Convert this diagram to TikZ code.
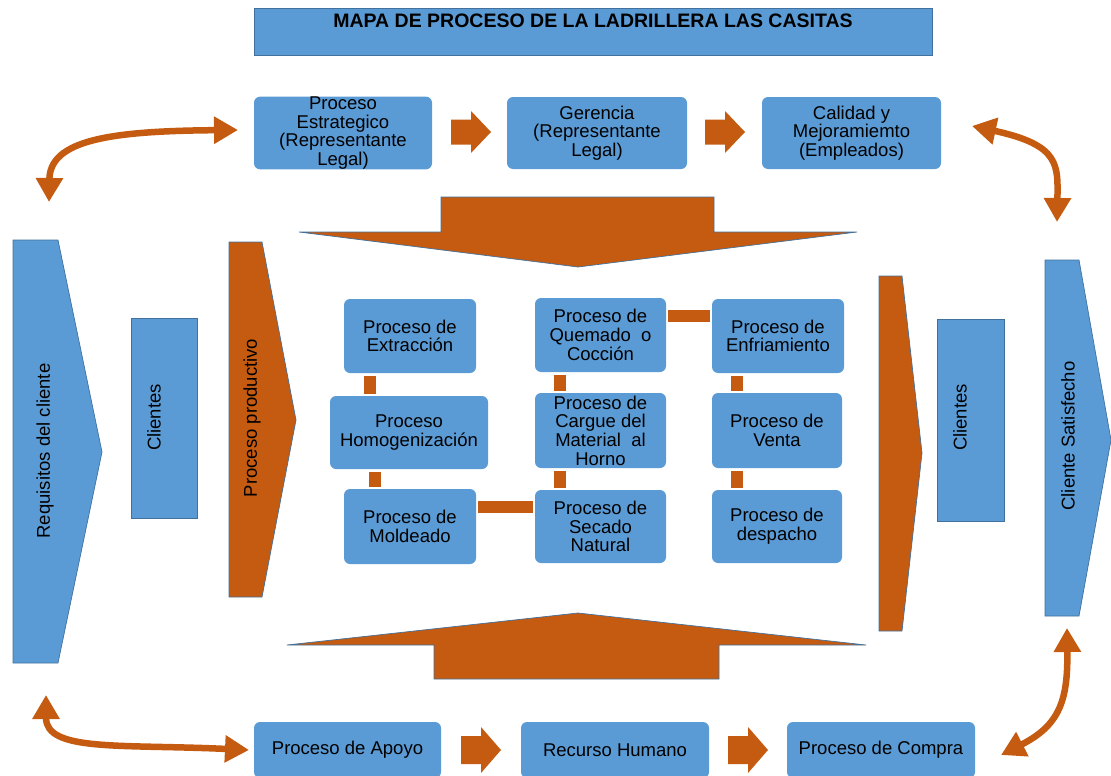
\documentclass[tikz,border=0pt]{standalone}
\usepackage{fontspec}
\setmainfont{Liberation Sans}
\usetikzlibrary{arrows.meta,calc}
\definecolor{pblue}{RGB}{91,155,213}
\definecolor{pedge}{RGB}{65,113,156}
\definecolor{porange}{RGB}{197,90,17}
\newcommand\pbox[6]{\node[rbox, minimum width={#4-#2}, minimum height={#5-#3}] (#1) at ({(#2+#4)/2},{(#3+#5)/2}) {#6};}
\newcommand\blockarr[4]{% x0, cy, shaft half, head half
  \fill[porange] (#1,#2-#3) -- (#1+20,#2-#3) -- (#1+20,#2-#4) -- (#1+40,#2) -- (#1+20,#2+#4) -- (#1+20,#2+#3) -- (#1,#2+#3) -- cycle;}
\begin{document}
\begin{tikzpicture}[x=1pt,y=-1pt,
  txt/.style={font=\fontsize{18.5}{18.7}\selectfont, align=center, inner sep=0pt},
  rbox/.style={txt, fill=pblue, rounded corners=6pt},
  plainbox/.style={fill=pblue, draw=pedge, line width=0.8pt},
  bigshape/.style={draw=pedge, line width=0.7pt},
  vbar/.style={draw=porange, line width=12pt, shorten <=3pt, shorten >=2pt},
  hbar/.style={draw=porange, line width=12pt, shorten <=2pt, shorten >=2pt},
  dbl/.style={draw=porange, line width=6.5pt,
    {Triangle[width=26pt,length=24pt]}-{Triangle[width=26pt,length=24pt]}},
]
\useasboundingbox (0,0) rectangle (1111,776);

% title
\node[plainbox, minimum width=678, minimum height=47, inner sep=0pt] (title) at (593,31.5) {};
\node[font=\bfseries\fontsize{19.5}{21}\selectfont, anchor=north, inner sep=0pt] (titletext) at ([yshift=-6pt]title.north) {MAPA DE PROCESO DE LA LADRILLERA LAS CASITAS};

% top row
\pbox{est}{254}{97}{432}{169}{Proceso\\Estrategico\\(Representante\\Legal)}
\pbox{ger}{507}{97}{687}{169}{Gerencia\\(Representante\\Legal)}
\pbox{cal}{762}{97}{941}{169}{Calidad y\\Mejoramiemto\\(Empleados)}
\blockarr{451}{132}{12.5}{21}
\blockarr{705}{132}{12.5}{21}

% bottom row
\pbox{apo}{254}{722}{441}{778}{Proceso de Apoyo}
\pbox{rec}{521}{722}{709}{778}{Recurso Humano}
\pbox{com}{787}{722}{975}{778}{Proceso de Compra}
\blockarr{461}{750}{14}{23}
\blockarr{728}{750}{14}{23}

% big arrows
\fill[porange, bigshape] (441,197) -- (714,197) -- (714,232) -- (857,232) -- (578,267) -- (299,232) -- (441,232) -- cycle;
\fill[porange, bigshape] (578,613) -- (866,645) -- (719,645) -- (719,679) -- (434,679) -- (434,645) -- (287,645) -- cycle;

% chevrons
\fill[pblue, bigshape] (13,240) -- (58,240) -- (102,452) -- (58,663) -- (13,663) -- cycle;
\node[txt, rotate=90] (req) at (45,451) {Requisitos del cliente};
\fill[porange, bigshape] (229,242) -- (262,242) -- (296,420) -- (262,597) -- (229,597) -- cycle;
\node[txt, rotate=90] (prod) at (252,418) {Proceso productivo};
\fill[porange, bigshape] (879,276) -- (902,276) -- (922,453) -- (902,631) -- (879,631) -- cycle;
\fill[pblue, bigshape] (1045,260) -- (1079,260) -- (1111,440) -- (1079,616) -- (1045,616) -- cycle;
\node[txt, rotate=90] (sat) at (1068,436) {Cliente Satisfecho};

\node[plainbox, minimum width=66, minimum height=200, inner sep=0pt] (cli1) at (164,418) {};
\node[txt, rotate=90] (cli1t) at (154,417.5) {Clientes};
\node[plainbox, minimum width=67, minimum height=202, inner sep=0pt] (cli2) at (970.5,420) {};
\node[txt, rotate=90] (cli2t) at (960,417.5) {Clientes};

% inner process boxes
\pbox{extr}{344}{299}{476}{373}{Proceso de\\Extracción}
\pbox{homo}{330}{396}{488}{469}{Proceso\\Homogenización}
\pbox{mold}{344}{489}{476}{564}{Proceso de\\Moldeado}
\pbox{quem}{535}{298}{666}{372}{Proceso de\\Quemado\ \ o\\Cocción}
\pbox{carg}{535}{393}{666}{468}{Proceso de\\Cargue del\\Material\ \ al\\Horno}
\pbox{seca}{535}{490}{666}{563}{Proceso de\\Secado\\Natural}
\pbox{enfr}{712}{299}{844}{373}{Proceso de\\Enfriamiento}
\pbox{vent}{712}{393}{842}{468}{Proceso de\\Venta}
\pbox{desp}{712}{490}{842}{563}{Proceso de\\despacho}

% connecting bars
\coordinate (k1) at ($(extr.south west)+(26,0)$);
\coordinate (k2) at ($(mold.north west)+(31,0)$);
\coordinate (k3) at ($(quem.south west)+(25,0)$);
\coordinate (k4) at ($(carg.south west)+(25,0)$);
\coordinate (k5) at ($(enfr.south west)+(25,0)$);
\coordinate (k6) at ($(vent.south west)+(25,0)$);
\coordinate (k7) at ($(mold.north east)+(0,18.5)$);
\coordinate (k8) at ($(quem.north east)+(0,18)$);
\draw[vbar] (k1) -- (k1 |- homo.north);
\draw[vbar] (k2 |- homo.south) -- (k2);
\draw[vbar] (k3) -- (k3 |- carg.north);
\draw[vbar] (k4) -- (k4 |- seca.north);
\draw[vbar] (k5) -- (k5 |- vent.north);
\draw[vbar] (k6) -- (k6 |- desp.north);
\draw[hbar] (k7) -- (k7 -| seca.west);
\draw[hbar] (k8) -- (k8 -| enfr.west);

% curved double arrows
\coordinate (tlA) at (49,202);
\coordinate (tlB) at (238,130);
\coordinate (trA) at (972,126);
\coordinate (trB) at (1057,222);
\coordinate (blA) at (46,695);
\coordinate (blB) at (249,750);
\coordinate (brA) at (1067,628);
\coordinate (brB) at (1001,755);
\draw[dbl] (tlA) .. controls (50,140) and (110,131) .. (tlB);
\draw[dbl] (trA) .. controls (1060,145) and (1058,165) .. (trB);
\draw[dbl] (blA) .. controls (46,752) and (120,744) .. (blB);
\draw[dbl] (brA) .. controls (1068,700) and (1060,725) .. (brB);
\end{tikzpicture}
\end{document}
